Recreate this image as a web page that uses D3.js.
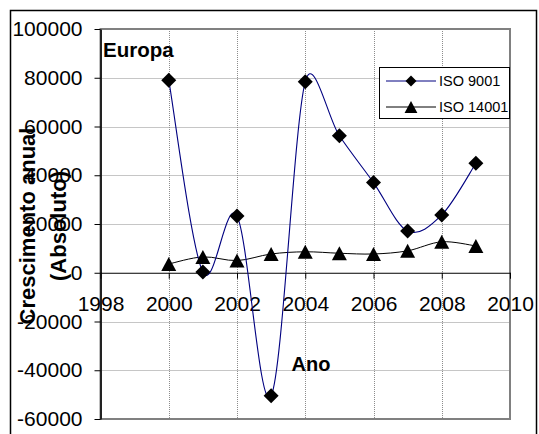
<!DOCTYPE html>
<html>
<head>
<meta charset="utf-8">
<script src="https://cdn.jsdelivr.net/npm/d3@7"></script>
<style>
  html, body { margin: 0; padding: 0; background: #fff; }
  svg { display: block; font-family: "Liberation Sans", Arial, sans-serif; }
</style>
</head>
<body>
<svg id="chart" width="539" height="434"></svg>
<script>
// Annual growth of certificates in Europe
const years = [2000, 2001, 2002, 2003, 2004, 2005, 2006, 2007, 2008, 2009];
const iso9001 = [79000, 300, 23300, -50500, 78400, 56200, 37000, 17100, 23700, 44900];
const iso14001 = [3600, 6500, 5000, 7700, 8600, 8000, 7700, 9000, 12700, 11000];
const seriesNames = ["ISO 9001", "ISO 14001"];
const xTicks = [1998, 2000, 2002, 2004, 2006, 2008, 2010];
const yTicks = [-60000, -40000, -20000, 0, 20000, 40000, 60000, 80000, 100000];

const svg = d3.select("#chart");
const plot = { left: 100.5, right: 510, top: 29, bottom: 419 };

const x = d3.scaleLinear().domain([1998, 2010]).range([plot.left, plot.right]);
const y = d3.scaleLinear().domain([-60000, 100000]).range([plot.bottom, plot.top]);

// outer chart frame
svg.append("rect")
  .attr("x", 10.5).attr("y", 10.5).attr("width", 526).attr("height", 440)
  .attr("fill", "#fff").attr("stroke", "#000").attr("stroke-width", 1.5);

// gridlines
const grid = svg.append("g").attr("stroke", "#8c8c8c").attr("stroke-width", 1)
  .attr("stroke-dasharray", "1,1");
grid.selectAll(".gx").data(xTicks.filter(d => d > 1998 && d < 2010)).join("line")
  .attr("x1", d => Math.round(x(d)) + 0.5).attr("x2", d => Math.round(x(d)) + 0.5)
  .attr("y1", plot.top).attr("y2", plot.bottom);
grid.selectAll(".gy").data(yTicks.filter(d => d !== 0 && d > -60000)).join("line")
  .attr("x1", plot.left).attr("x2", plot.right)
  .attr("y1", d => Math.round(y(d)) + 0.5).attr("y2", d => Math.round(y(d)) + 0.5);

// plot area border
svg.append("rect")
  .attr("x", plot.left).attr("y", plot.top)
  .attr("width", plot.right - plot.left).attr("height", plot.bottom - plot.top)
  .attr("fill", "none").attr("stroke", "#808080").attr("stroke-width", 2);

// y axis
const yAxis = svg.append("g")
  .attr("transform", `translate(${plot.left},0)`)
  .call(d3.axisLeft(y).tickValues(yTicks).tickSize(6).tickSizeOuter(0).tickPadding(12)
    .tickFormat(d => String(d)));
yAxis.select(".domain").attr("stroke", "#222").attr("stroke-width", 2);
yAxis.selectAll("line").attr("stroke", "#000");
yAxis.selectAll("text").attr("font-size", 21).attr("fill", "#000");

// x axis crossing at zero
const xAxis = svg.append("g")
  .attr("transform", `translate(0,${y(0)})`)
  .call(d3.axisBottom(x).tickValues(xTicks).tickSize(6).tickSizeOuter(0).tickPadding(17)
    .tickFormat(d => String(d)));
xAxis.select(".domain").attr("stroke", "#000").attr("stroke-width", 1);
xAxis.selectAll("line").attr("stroke", "#000");
xAxis.selectAll("text").attr("font-size", 21).attr("fill", "#000");

// smoothed line: cubic Bezier segments whose handles are 1/6 of the neighbour chord,
// clamped so a handle never reaches past half of its own segment
function smoothPath(values) {
  const pts = values.map((v, i) => [x(years[i]), y(v)]);
  const dist = (a, b) => Math.hypot(b[0] - a[0], b[1] - a[1]);
  const p = d3.path();
  p.moveTo(pts[0][0], pts[0][1]);
  for (let i = 0; i < pts.length - 1; i++) {
    const p0 = pts[Math.max(i - 1, 0)], p1 = pts[i], p2 = pts[i + 1];
    const p3 = pts[Math.min(i + 2, pts.length - 1)];
    const d02 = dist(p0, p2), d12 = dist(p1, p2), d13 = dist(p1, p3);
    let f1 = 1 / 6, f2 = 1 / 6;
    if (d02 > 0 && d02 / 6 > d12 / 2) f1 = d12 / (2 * d02);
    if (d13 > 0 && d13 / 6 > d12 / 2) f2 = d12 / (2 * d13);
    p.bezierCurveTo(
      p1[0] + f1 * (p2[0] - p0[0]), p1[1] + f1 * (p2[1] - p0[1]),
      p2[0] - f2 * (p3[0] - p1[0]), p2[1] - f2 * (p3[1] - p1[1]),
      p2[0], p2[1]);
  }
  return p.toString();
}

svg.append("path").attr("d", smoothPath(iso14001))
  .attr("fill", "none").attr("stroke", "#000").attr("stroke-width", 1);
svg.append("path").attr("d", smoothPath(iso9001))
  .attr("fill", "none").attr("stroke", "#000080").attr("stroke-width", 1.1);

const diamond = s => `M0,${-s}L${s},0L0,${s}L${-s},0Z`;
const triangle = s => `M0,${-s}L${s * 1.07},${s}L${-s * 1.07},${s}Z`;

// markers
svg.append("g").selectAll("path").data(iso14001).join("path")
  .attr("transform", (d, i) => `translate(${x(years[i])},${y(d)})`)
  .attr("d", triangle(7)).attr("fill", "#000");
svg.append("g").selectAll("path").data(iso9001).join("path")
  .attr("transform", (d, i) => `translate(${x(years[i])},${y(d)})`)
  .attr("d", diamond(7.5)).attr("fill", "#000");

// titles
svg.append("text").attr("x", 103).attr("y", 57)
  .attr("font-size", 20.5).attr("font-weight", "bold").text("Europa");
svg.append("text").attr("x", 311).attr("y", 371).attr("text-anchor", "middle")
  .attr("font-size", 20).attr("font-weight", "bold").text("Ano");
const yTitle = svg.append("g").attr("transform", "translate(0,226)");
yTitle.append("text").attr("transform", "translate(27,0) rotate(-90)")
  .attr("text-anchor", "middle").attr("dominant-baseline", "central")
  .attr("font-size", 22).attr("font-weight", "bold").text("Crescimento anual");
yTitle.append("text").attr("transform", "translate(58,0) rotate(-90)")
  .attr("text-anchor", "middle").attr("dominant-baseline", "central")
  .attr("font-size", 22).attr("font-weight", "bold").text("(Absoluto)");

// legend
const legend = svg.append("g");
legend.append("rect").attr("x", 379.5).attr("y", 67.5).attr("width", 130).attr("height", 51)
  .attr("fill", "#fff").attr("stroke", "#000").attr("stroke-width", 1);
const rows = [
  { name: seriesNames[0], color: "#000080", mark: diamond(5.5), cy: 81 },
  { name: seriesNames[1], color: "#000", mark: triangle(6), cy: 107 }
];
rows.forEach(r => {
  legend.append("line").attr("x1", 386).attr("x2", 436).attr("y1", r.cy).attr("y2", r.cy)
    .attr("stroke", r.color).attr("stroke-width", 1);
  legend.append("path").attr("transform", `translate(411,${r.cy})`).attr("d", r.mark).attr("fill", "#000");
  legend.append("text").attr("x", 439).attr("y", r.cy).attr("dy", "0.35em")
    .attr("font-size", 14.5).text(r.name);
});
</script>
</body>
</html>
